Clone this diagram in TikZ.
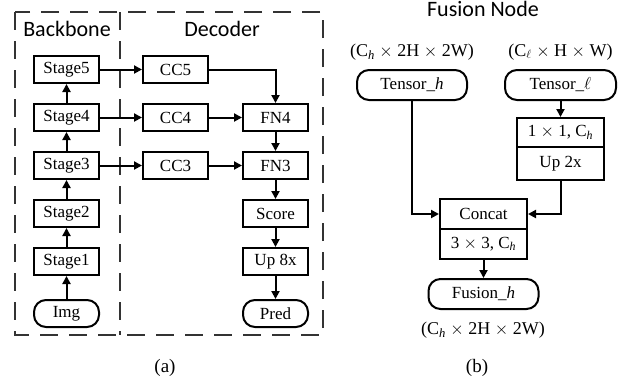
\documentclass[tikz,border=0pt]{standalone}
\usepackage{fontspec}
\setmainfont{Liberation Serif}
\newfontfamily\headfont{Carlito}
\usetikzlibrary{positioning, arrows.meta}

\begin{document}
\begin{tikzpicture}[
  x=1pt, y=-1pt,
  node distance=19pt,
  box/.style={draw,line width=2pt,minimum width=65pt,minimum height=27pt,inner sep=1pt,font=\fontsize{17}{20}\selectfont,fill=white},
  term/.style={box,rounded corners=12pt},
  arrow/.style={-{Triangle[length=8pt,width=8pt]},line width=2pt},
  panel/.style={draw=black!80,line width=1.3pt,dash pattern=on 18pt off 11pt},
  head/.style={font=\headfont\fontsize{22}{26}\selectfont},
  dims/.style={font=\fontsize{18}{22}\selectfont},
  caption/.style={font=\fontsize{19}{22}\selectfont},
]
\useasboundingbox (0,0) rectangle (627,383);

% (a) backbone and decoder
\draw[panel] (15,12) rectangle (323,335);
\draw[panel] (120,12) -- (120,335);
\node[head] (bbhead) at (67,29) {Backbone};
\node[head] (dechead) at (222,29) {Decoder};

\node[box] (st5) at (66.5,69.5) {Stage5};
\node[box,below=of st5] (st4) {Stage4};
\node[box,below=of st4] (st3) {Stage3};
\node[box,below=of st3] (st2) {Stage2};
\node[box,below=of st2] (st1) {Stage1};
\node[term,below=23pt of st1] (img) {Img};

\node[box,right=42pt of st5] (cc5) {CC5};
\node[box,right=42pt of st4] (cc4) {CC4};
\node[box,right=42pt of st3] (cc3) {CC3};
\node[box,right=33pt of cc4] (fn4) {FN4};
\node[box,right=33pt of cc3] (fn3) {FN3};
\node[box,below=of fn3] (score) {Score};
\node[box,below=of score] (up8) {Up 8x};
\node[term,below=23pt of up8] (pred) {Pred};

\foreach \a/\b in {img/st1,st1/st2,st2/st3,st3/st4,st4/st5} {
  \draw[arrow] (\a) -- (\b);
}
\foreach \i in {3,4,5} {
  \draw[arrow] (st\i) -- (cc\i);
}
\draw[arrow] (cc4) -- (fn4);
\draw[arrow] (cc3) -- (fn3);
\draw[arrow] (cc5) -| (fn4);
\foreach \a/\b in {fn4/fn3,fn3/score,score/up8,up8/pred} {
  \draw[arrow] (\a) -- (\b);
}
\node[caption] (capa) at (165,368) {(a)};

% (b) fusion node
\node[head,anchor=base] (fnhead) at (483,16) {Fusion Node};
\node[dims] (dimh) at (412,52) {(C\textsubscript{\textit{h}} $\times$ 2H $\times$ 2W)};
\node[dims] (diml) at (560.5,52) {(C\textsubscript{$\ell$} $\times$ H $\times$ W)};
\node[term,minimum width=110pt,minimum height=30pt] (tenh) at (412,85) {Tensor\_\textit{h}};
\node[term,minimum width=111pt,minimum height=30pt] (tenl) at (560.5,85) {Tensor\_$\ell$};
\node[box,minimum width=87pt,minimum height=29pt,below=16pt of tenl] (conv1) {1 $\times$ 1, C\textsubscript{\textit{h}}};
\node[box,minimum width=87pt,minimum height=33pt,below=-2pt of conv1] (up2) {Up 2x};
\node[box,minimum width=87pt,minimum height=30pt] (concat) at (483.5,214) {Concat};
\node[box,minimum width=87pt,minimum height=30pt,below=-2pt of concat] (conv3) {3 $\times$ 3, C\textsubscript{\textit{h}}};
\node[term,minimum width=110pt,minimum height=30pt,below=18pt of conv3] (fusion) {Fusion\_\textit{h}};
\node[dims] (dimf) at (483,330) {(C\textsubscript{\textit{h}} $\times$ 2H $\times$ 2W)};

\draw[arrow] (tenl) -- (conv1);
\draw[arrow] (tenh.south) |- (concat.west);
\draw[arrow] (up2.south) |- (concat.east);
\draw[arrow] (conv3) -- (fusion);
\node[caption] (capb) at (477,368) {(b)};

\end{tikzpicture}
\end{document}
